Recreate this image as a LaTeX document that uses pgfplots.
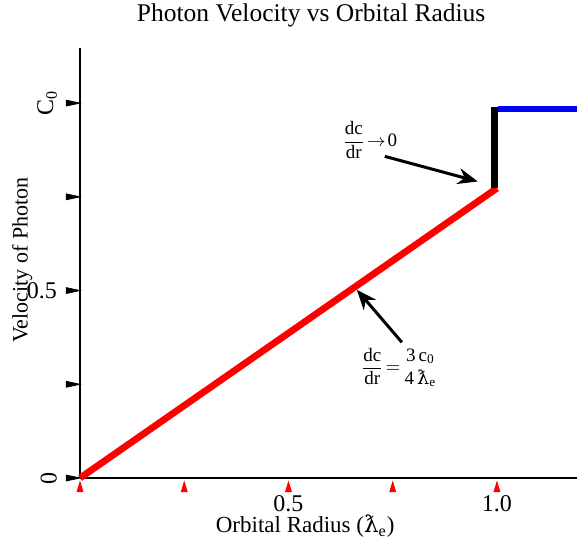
\documentclass[border=0pt]{standalone}
\usepackage{fontspec}
\setmainfont{Liberation Serif}
\newfontfamily\djv{DejaVu Serif}
\usepackage{amsmath}
\usepackage{graphicx}
\usepackage{pgfplots}
\pgfplotsset{compat=1.18}
\usetikzlibrary{arrows.meta}
\definecolor{pblue}{RGB}{0,0,255}
\definecolor{pred}{RGB}{255,0,0}
\newcommand{\lbar}{{\djv ƛ}}

\begin{document}
\begin{tikzpicture}
\begin{axis}[
  name=ax,
  scale only axis, width=248.5pt, height=215pt,
  xmin=0, xmax=1.192, ymin=0, ymax=1.147,
  axis lines*=left, axis line style={line width=0.6pt},
  clip=false,
  major tick length=0pt,
  xtick={0,0.25,0.5,0.75,1}, xticklabels={,,0.5,,1.0},
  ytick={0,0.25,0.5,0.75,1},
  yticklabels={\rotatebox{90}{0},,0.5,,\rotatebox{90}{C\textsubscript{0}}},
  tick label style={font=\fontsize{12}{14}\selectfont},
  x tick label style={yshift=-5pt},
  y tick label style={xshift=-8pt},
  xlabel={Orbital Radius (\lbar\textsubscript{e})},
  xlabel style={at={(axis description cs:0.453,-0.112)}, anchor=center, font=\fontsize{11.5}{13}\selectfont},
  ylabel={Velocity of Photon},
  ylabel style={at={(axis description cs:-0.116,0.507)}, anchor=center, font=\fontsize{11}{13}\selectfont},
]
% curve segments
\addplot[pred, line width=3.4pt] coordinates {(0,0) (1,0.773)};
\addplot[black, line width=3.4pt] coordinates {(0.994,0.773) (0.994,0.99)};
\addplot[pblue, line width=2.8pt] coordinates {(1.002,0.984) (1.192,0.984)};

% triangle tick marks
\addplot[only marks, mark=triangle*, mark size=1.7pt, black,
  mark options={xshift=-4.6pt, rotate=-90, yscale=2.7}]
  coordinates {(0,0) (0,0.25) (0,0.5) (0,0.75) (0,1)};
\addplot[only marks, mark=triangle*, mark size=1.7pt, pred,
  mark options={yshift=-5.2pt, yscale=1.9}]
  coordinates {(0,0) (0.25,0) (0.5,0) (0.75,0) (1,0)};

% annotations
\draw[line width=1.5pt, -{Stealth[length=10pt, width=8pt]}]
  (axis cs:0.731,0.858) -- (axis cs:0.954,0.791);
\node[font=\fontsize{9.5}{11}\selectfont] at (axis cs:0.695,0.901)
  {$\dfrac{\text{dc}}{\text{dr}}\!\rightarrow\!\text{0}$};
\draw[line width=1.5pt, -{Stealth[length=10pt, width=8pt]}]
  (axis cs:0.772,0.362) -- (axis cs:0.664,0.502);
\node[font=\fontsize{9.5}{11}\selectfont] at (axis cs:0.767,0.295)
  {$\dfrac{\text{dc}}{\text{dr}}\!=\!\genfrac{}{}{0pt}{0}{\text{3\,c}_{\text{0}}}{\text{4}\,\text{\djv ƛ}_{\text{e}}}$};

\node[font=\fontsize{12.75}{15}\selectfont] at (axis description cs:0.465,1) [yshift=16.5pt]
  {Photon Velocity vs Orbital Radius};
\end{axis}
\pgfresetboundingbox
\path ([xshift=-40pt,yshift=-32pt]ax.south west) rectangle ([yshift=24pt]ax.north east);
\end{tikzpicture}
\end{document}
